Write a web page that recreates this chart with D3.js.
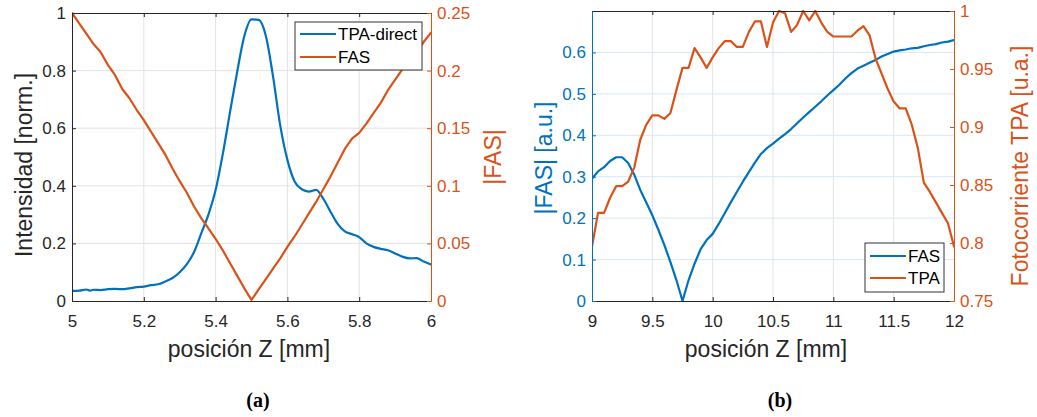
<!DOCTYPE html>
<html>
<head>
<meta charset="utf-8">
<script src="https://cdn.jsdelivr.net/npm/d3@7"></script>
<style>
  html, body { margin: 0; padding: 0; background: #fff; }
  svg { display: block; }
  text { font-family: "Liberation Sans", Arial, Helvetica, sans-serif; }
  text.caption { font-family: "Liberation Serif", "DejaVu Serif", serif; font-weight: bold; }
</style>
</head>
<body>
<svg id="fig" width="1037" height="417"></svg>
<script>
// ---------- panel (a): TPA-direct intensity and |FAS| vs Z ----------
const zA = [5.00,5.02,5.04,5.05,5.06,5.08,5.10,5.12,5.14,5.16,5.18,5.20,5.22,5.24,5.26,5.28,5.30,5.32,5.34,5.36,5.38,5.40,5.42,5.44,5.46,5.48,5.50,5.52,5.54,5.56,5.58,5.60,5.62,5.64,5.66,5.68,5.70,5.72,5.74,5.76,5.78,5.80,5.82,5.84,5.86,5.88,5.90,5.92,5.94,5.96,5.98,6.00];
const tpaDirect = [0.035,0.036,0.040,0.036,0.039,0.038,0.041,0.042,0.041,0.044,0.048,0.050,0.055,0.058,0.068,0.080,0.100,0.128,0.170,0.235,0.300,0.385,0.510,0.655,0.795,0.920,0.978,0.976,0.920,0.780,0.610,0.490,0.415,0.388,0.380,0.386,0.355,0.310,0.268,0.242,0.232,0.222,0.200,0.188,0.181,0.176,0.165,0.154,0.148,0.149,0.137,0.127];
const zFasA = [5.00,5.02,5.04,5.06,5.08,5.10,5.12,5.14,5.16,5.18,5.20,5.22,5.24,5.26,5.28,5.30,5.32,5.34,5.36,5.38,5.40,5.42,5.44,5.46,5.48,5.50,5.52,5.54,5.56,5.58,5.60,5.62,5.64,5.66,5.68,5.70,5.72,5.74,5.76,5.78,5.80,5.82,5.84,5.86,5.88,5.90,5.92,5.94,5.96,5.98,6.00];
const fasA = [0.250,0.241,0.232,0.223,0.216,0.205,0.196,0.184,0.176,0.166,0.157,0.147,0.137,0.127,0.115,0.104,0.094,0.082,0.072,0.063,0.054,0.044,0.033,0.022,0.011,0.001,0.010,0.019,0.028,0.037,0.047,0.056,0.066,0.076,0.086,0.097,0.108,0.120,0.132,0.141,0.146,0.154,0.163,0.172,0.183,0.192,0.201,0.209,0.216,0.225,0.233];

const xTicksA = [5, 5.2, 5.4, 5.6, 5.8, 6];
const xTickLabelsA = ["5", "5.2", "5.4", "5.6", "5.8", "6"];
const yLeftTicksA = [0, 0.2, 0.4, 0.6, 0.8, 1];
const yLeftTickLabelsA = ["0", "0.2", "0.4", "0.6", "0.8", "1"];
const yRightTicksA = [0, 0.05, 0.1, 0.15, 0.2, 0.25];
const yRightTickLabelsA = ["0", "0.05", "0.1", "0.15", "0.2", "0.25"];

// ---------- panel (b): |FAS| and TPA photocurrent vs Z ----------
const zFasB = [9.00,9.05,9.10,9.15,9.20,9.25,9.30,9.35,9.40,9.45,9.50,9.55,9.60,9.65,9.70,9.75,9.80,9.85,9.90,9.95,10.00,10.05,10.10,10.15,10.20,10.25,10.30,10.35,10.40,10.45,10.50,10.55,10.60,10.65,10.70,10.75,10.80,10.85,10.90,10.95,11.00,11.05,11.10,11.15,11.20,11.25,11.30,11.35,11.40,11.45,11.50,11.55,11.60,11.65,11.70,11.75,11.80,11.85,11.90,11.95,12.00];
const fasB = [0.295,0.313,0.323,0.338,0.347,0.347,0.333,0.305,0.268,0.238,0.207,0.172,0.135,0.094,0.050,0.000,0.050,0.090,0.125,0.147,0.162,0.186,0.212,0.238,0.263,0.288,0.311,0.334,0.355,0.369,0.380,0.392,0.403,0.415,0.429,0.443,0.456,0.469,0.482,0.496,0.509,0.522,0.537,0.550,0.561,0.568,0.575,0.582,0.590,0.596,0.602,0.605,0.607,0.610,0.611,0.615,0.618,0.620,0.624,0.626,0.630];
const zTpaB = [9.00,9.05,9.10,9.15,9.20,9.25,9.30,9.35,9.40,9.45,9.50,9.55,9.60,9.65,9.70,9.75,9.80,9.85,9.90,9.95,10.00,10.05,10.10,10.15,10.20,10.25,10.30,10.35,10.40,10.45,10.50,10.55,10.60,10.65,10.70,10.75,10.80,10.85,10.90,10.95,11.00,11.05,11.10,11.15,11.20,11.25,11.30,11.35,11.40,11.45,11.50,11.55,11.60,11.65,11.70,11.75,11.80,11.85,11.90,11.95,12.00];
const tpaB = [0.797,0.826,0.826,0.839,0.849,0.849,0.853,0.865,0.889,0.902,0.910,0.910,0.907,0.912,0.932,0.951,0.951,0.968,0.960,0.951,0.960,0.968,0.974,0.974,0.969,0.969,0.982,0.991,0.991,0.969,0.990,1.000,0.998,0.982,0.988,1.000,0.992,1.000,0.990,0.982,0.978,0.978,0.978,0.978,0.983,0.987,0.979,0.959,0.946,0.933,0.922,0.916,0.916,0.902,0.882,0.852,0.844,0.835,0.826,0.817,0.797];

const xTicksB = [9, 9.5, 10, 10.5, 11, 11.5, 12];
const xTickLabelsB = ["9", "9.5", "10", "10.5", "11", "11.5", "12"];
const yLeftTicksB = [0, 0.1, 0.2, 0.3, 0.4, 0.5, 0.6];
const yLeftTickLabelsB = ["0", "0.1", "0.2", "0.3", "0.4", "0.5", "0.6"];
const yRightTicksB = [0.75, 0.8, 0.85, 0.9, 0.95, 1];
const yRightTickLabelsB = ["0.75", "0.8", "0.85", "0.9", "0.95", "1"];

// ---------- styling ----------
const BLUE = "#0072BD";
const ORANGE = "#D95319";
const AXIS = "#262626";
const TICK_FONT = 17;
const LABEL_FONT = 23;
const LEGEND_FONT = 17;

const svg = d3.select("#fig");

function labelFor(ticks, labels) {
  return d => labels[ticks.indexOf(d)];
}

function styleAxis(g, color) {
  g.selectAll("path.domain").attr("stroke", color).attr("stroke-width", 1);
  g.selectAll(".tick line").attr("stroke", color).attr("stroke-width", 1);
  g.selectAll(".tick text").attr("fill", color).attr("font-size", TICK_FONT);
  g.attr("font-family", null).attr("font-size", null);
}

function drawPanel(p) {
  const g = svg.append("g");
  const x = d3.scaleLinear().domain(p.xDomain).range([p.x0, p.x1]);
  const yL = d3.scaleLinear().domain(p.yLDomain).range([p.y1, p.y0]);
  const yR = d3.scaleLinear().domain(p.yRDomain).range([p.y1, p.y0]);

  const clipId = "clip" + p.id;
  svg.append("clipPath").attr("id", clipId)
    .append("rect").attr("x", p.x0).attr("y", p.y0 - 1)
    .attr("width", p.x1 - p.x0).attr("height", p.y1 - p.y0 + 2);

  // grid
  const grid = g.append("g");
  grid.selectAll("line.vg").data(p.xTicks.filter(t => t > p.xDomain[0] && t < p.xDomain[1]))
    .join("line").attr("class", "vg")
    .attr("x1", d => x(d)).attr("x2", d => x(d))
    .attr("y1", p.y0).attr("y2", p.y1)
    .attr("stroke", p.vGridColor).attr("stroke-width", 1);
  grid.selectAll("line.hg").data(p.yLTicks.filter(t => t > p.yLDomain[0] && t < p.yLDomain[1]))
    .join("line").attr("class", "hg")
    .attr("x1", p.x0).attr("x2", p.x1)
    .attr("y1", d => yL(d)).attr("y2", d => yL(d))
    .attr("stroke", p.hGridColor).attr("stroke-width", 1);

  // series
  const lines = g.append("g").attr("clip-path", `url(#${clipId})`);
  p.series.forEach(s => {
    const sy = s.axis === "left" ? yL : yR;
    const pts = s.z.map((z, i) => [z, s.v[i]]);
    lines.append("path").datum(pts)
      .attr("fill", "none").attr("stroke", s.color).attr("stroke-width", 2.2)
      .attr("stroke-linejoin", "round").attr("stroke-linecap", "round")
      .attr("d", d3.line().x(d => x(d[0])).y(d => sy(d[1])).curve(s.curve || d3.curveLinear));
  });

  // axes (ticks point inward)
  const TL = 4;
  const top = g.append("g").attr("transform", `translate(0,${p.y0})`)
    .call(d3.axisTop(x).tickValues(p.xTicks).tickSize(-TL).tickSizeOuter(0).tickFormat(""));
  styleAxis(top, AXIS);
  const bottom = g.append("g").attr("transform", `translate(0,${p.y1})`)
    .call(d3.axisBottom(x).tickValues(p.xTicks).tickSize(-TL).tickSizeOuter(0).tickPadding(14)
      .tickFormat(labelFor(p.xTicks, p.xTickLabels)));
  styleAxis(bottom, AXIS);
  bottom.selectAll(".tick text").attr("dy", "0.71em").attr("y", 14);

  const left = g.append("g").attr("transform", `translate(${p.x0},0)`)
    .call(d3.axisLeft(yL).tickValues(p.yLTicks).tickSize(-TL).tickSizeOuter(0).tickPadding(6)
      .tickFormat(labelFor(p.yLTicks, p.yLTickLabels)));
  styleAxis(left, p.leftColor);

  const right = g.append("g").attr("transform", `translate(${p.x1},0)`)
    .call(d3.axisRight(yR).tickValues(p.yRTicks).tickSize(-TL).tickSizeOuter(0).tickPadding(6)
      .tickFormat(labelFor(p.yRTicks, p.yRTickLabels)));
  styleAxis(right, ORANGE);

  // axis titles
  g.append("text").attr("x", p.xLabelPos[0]).attr("y", p.xLabelPos[1])
    .attr("text-anchor", "middle").attr("font-size", LABEL_FONT).attr("fill", AXIS)
    .text("posición Z [mm]");
  g.append("text").attr("transform", `translate(${p.yLLabelPos[0]},${p.yLLabelPos[1]}) rotate(-90)`)
    .attr("text-anchor", "middle").attr("font-size", LABEL_FONT).attr("fill", p.leftLabelColor)
    .text(p.yLLabel);
  g.append("text").attr("transform", `translate(${p.yRLabelPos[0]},${p.yRLabelPos[1]}) rotate(-90)`)
    .attr("text-anchor", "middle").attr("font-size", LABEL_FONT).attr("fill", ORANGE)
    .text(p.yRLabel);

  // legend
  const L = p.legend;
  const lg = g.append("g");
  lg.append("rect").attr("x", L.x).attr("y", L.y).attr("width", L.w).attr("height", L.h)
    .attr("fill", "#fff").attr("stroke", "#333").attr("stroke-width", 1);
  p.series.forEach((s, i) => {
    const cy = L.y + L.firstRow + i * L.rowGap;
    lg.append("line").attr("x1", L.x + 5).attr("x2", L.x + 5 + L.sample)
      .attr("y1", cy).attr("y2", cy).attr("stroke", s.color).attr("stroke-width", 2.2);
    lg.append("text").attr("x", L.x + 7 + L.sample).attr("y", cy).attr("dy", "0.36em")
      .attr("font-size", LEGEND_FONT).attr("fill", "#000").text(s.name);
  });

  // caption
  g.append("text").attr("class", "caption")
    .attr("x", p.captionPos[0]).attr("y", p.captionPos[1])
    .attr("text-anchor", "middle").attr("font-size", 20).attr("fill", "#000")
    .text(p.caption);
}

drawPanel({
  id: "a",
  x0: 72, x1: 431, y0: 13, y1: 301,
  xDomain: [5, 6], yLDomain: [0, 1], yRDomain: [0, 0.25],
  xTicks: xTicksA, xTickLabels: xTickLabelsA,
  yLTicks: yLeftTicksA, yLTickLabels: yLeftTickLabelsA,
  yRTicks: yRightTicksA, yRTickLabels: yRightTickLabelsA,
  vGridColor: "#e3e3e3", hGridColor: "#e3e3e3",
  leftColor: AXIS, leftLabelColor: AXIS,
  series: [
    { name: "TPA-direct", z: zA, v: tpaDirect, axis: "left", color: BLUE, curve: d3.curveMonotoneX },
    { name: "FAS", z: zFasA, v: fasA, axis: "right", color: ORANGE }
  ],
  xLabelPos: [249, 357], yLLabelPos: [32, 165], yRLabelPos: [501, 157],
  yLLabel: "Intensidad [norm.]", yRLabel: "|FAS|",
  legend: { x: 295, y: 22, w: 127, h: 48, sample: 36, firstRow: 12, rowGap: 23 },
  caption: "(a)", captionPos: [258, 407]
});

drawPanel({
  id: "b",
  x0: 592, x1: 954, y0: 11, y1: 301,
  xDomain: [9, 12], yLDomain: [0, 0.7], yRDomain: [0.75, 1],
  xTicks: xTicksB, xTickLabels: xTickLabelsB,
  yLTicks: yLeftTicksB, yLTickLabels: yLeftTickLabelsB,
  yRTicks: yRightTicksB, yRTickLabels: yRightTickLabelsB,
  vGridColor: "#e3e3e3", hGridColor: "#d8e8f4",
  leftColor: BLUE, leftLabelColor: BLUE,
  series: [
    { name: "FAS", z: zFasB, v: fasB, axis: "left", color: BLUE },
    { name: "TPA", z: zTpaB, v: tpaB, axis: "right", color: ORANGE }
  ],
  xLabelPos: [766, 357], yLLabelPos: [552, 158], yRLabelPos: [1028, 166],
  yLLabel: "|FAS| [a.u.]", yRLabel: "Fotocorriente TPA [u.a.]",
  legend: { x: 865, y: 243, w: 79, h: 49, sample: 36, firstRow: 13, rowGap: 22 },
  caption: "(b)", captionPos: [780, 407]
});
</script>
</body>
</html>
